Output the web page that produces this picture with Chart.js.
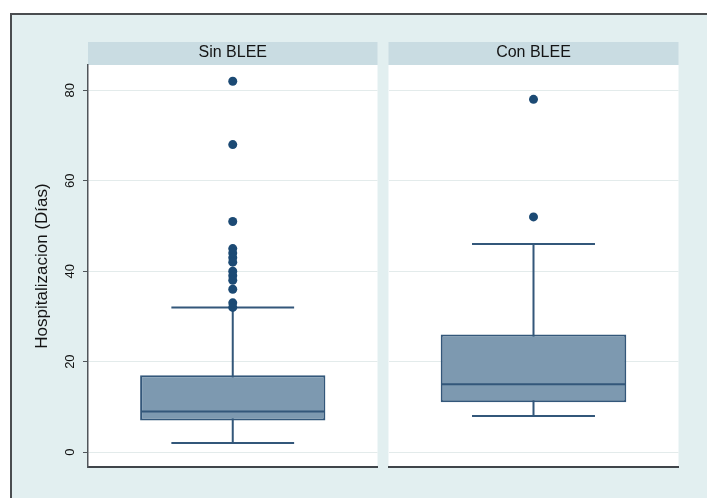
<!DOCTYPE html>
<html>
<head>
<meta charset="utf-8">
<script src="https://cdn.jsdelivr.net/npm/chart.js@4"></script>
<style>
  html, body { margin: 0; padding: 0; background: #ffffff; }
  #page { position: relative; width: 707px; height: 498px; overflow: hidden; }
  #frame {
    position: absolute; left: 10px; top: 13px; width: 720px; height: 520px;
    background: #e2eff0; border-top: 2px solid #4a4d50; border-left: 2px solid #4a4d50;
  }
  canvas { position: absolute; top: 0; }
  #panelSin { left: 0; }
  #panelCon { left: 384px; }
</style>
</head>
<body>
<div id="page">
  <div id="frame"></div>
  <canvas id="panelSin" width="382" height="498"></canvas>
  <canvas id="panelCon" width="299" height="498"></canvas>
</div>
<script>
// Hospital stay (days) by group: box plot summaries and outlying values
const categories = ['Sin BLEE', 'Con BLEE'];
const whiskerLow = [2, 8];
const q1 = [7, 11];
const median = [9, 15];
const q3 = [17, 26];
const whiskerHigh = [32, 46];
const outliersSin = [82, 68, 51, 45, 44, 43, 42, 40, 39, 38, 36, 33, 32];
const outliersCon = [78, 52];
const yTicks = [0, 20, 40, 60, 80];
const yTitle = 'Hospitalizacion (Días)';
const yMin = -3.3;
const yMax = 85.6;

const FONT = '"Liberation Sans", Arial, Helvetica, sans-serif';
const BOX_FILL = '#7d99b0';
const BOX_LINE = '#33577a';
const DOT = '#1c4a74';

// White plot region and the grey strip carrying the panel name
const panelDecor = {
  id: 'panelDecor',
  beforeDraw(chart, args, opts) {
    const { ctx, chartArea: a } = chart;
    ctx.save();
    ctx.fillStyle = '#ffffff';
    ctx.fillRect(a.left, a.top, a.right - a.left, a.bottom - a.top);
    ctx.fillStyle = '#c9dce2';
    ctx.fillRect(a.left, 42, a.right - a.left, a.top - 42);
    ctx.fillStyle = '#141414';
    ctx.font = '16px ' + FONT;
    ctx.textAlign = 'center';
    ctx.textBaseline = 'middle';
    ctx.fillText(opts.label, (a.left + a.right) / 2, 53);
    ctx.restore();
  }
};

// Whiskers with end caps behind the box, median line on top of it
const boxParts = {
  id: 'boxParts',
  beforeDatasetsDraw(chart, args, opts) {
    const { ctx, chartArea: a, scales: { x, y } } = chart;
    const cx = x.getPixelForValue(0);
    const half = (a.right - a.left) * 0.212;
    const lo = y.getPixelForValue(opts.low);
    const hi = y.getPixelForValue(opts.high);
    ctx.save();
    ctx.strokeStyle = BOX_LINE;
    ctx.lineWidth = 2;
    ctx.beginPath();
    ctx.moveTo(cx, lo); ctx.lineTo(cx, hi);
    ctx.moveTo(cx - half, lo); ctx.lineTo(cx + half, lo);
    ctx.moveTo(cx - half, hi); ctx.lineTo(cx + half, hi);
    ctx.stroke();
    ctx.restore();
  },
  afterDatasetsDraw(chart, args, opts) {
    const { ctx, scales: { y } } = chart;
    const bar = chart.getDatasetMeta(0).data[0];
    const my = y.getPixelForValue(opts.median);
    const w = bar.width / 2;
    ctx.save();
    ctx.strokeStyle = BOX_LINE;
    ctx.lineWidth = 2;
    ctx.beginPath();
    ctx.moveTo(bar.x - w + 1, my); ctx.lineTo(bar.x + w - 1, my);
    ctx.stroke();
    ctx.restore();
  }
};

function makePanel(canvasId, i, outliers, withAxis) {
  const cat = categories[i];
  return new Chart(document.getElementById(canvasId), {
    data: {
      labels: [cat],
      datasets: [
        {
          type: 'bar',
          data: [[q1[i], q3[i]]],
          backgroundColor: BOX_FILL,
          borderColor: BOX_LINE,
          borderWidth: 2,
          borderSkipped: false,
          barPercentage: 0.64,
          categoryPercentage: 1
        },
        {
          type: 'line',
          data: outliers.map(v => ({ x: cat, y: v })),
          showLine: false,
          pointRadius: 4.5,
          pointHoverRadius: 4.5,
          pointBackgroundColor: DOT,
          pointBorderWidth: 0
        }
      ]
    },
    options: {
      responsive: false,
      animation: false,
      events: [],
      layout: { padding: { top: 65, bottom: 31, left: 0, right: 0 } },
      plugins: {
        legend: { display: false },
        tooltip: { enabled: false },
        panelDecor: { label: cat },
        boxParts: { low: whiskerLow[i], high: whiskerHigh[i], median: median[i] }
      },
      scales: {
        x: {
          type: 'category',
          display: true,
          grid: { display: false, drawTicks: false },
          ticks: { display: false },
          border: { display: true, color: '#40454a', width: 2 },
          afterFit(s) { s.height = 0; }
        },
        y: {
          type: 'linear',
          min: yMin,
          max: yMax,
          afterBuildTicks(s) { s.ticks = yTicks.map(v => ({ value: v })); },
          grid: {
            color: '#e3ebeb',
            lineWidth: 1,
            drawTicks: withAxis,
            tickLength: 5,
            tickColor: '#50555a'
          },
          border: { display: withAxis, color: '#50555a', width: 1.5 },
          ticks: {
            display: withAxis,
            minRotation: 90,
            maxRotation: 90,
            crossAlign: 'center',
            padding: 5,
            color: '#111111',
            font: { family: FONT, size: 13 }
          },
          title: {
            display: withAxis,
            text: yTitle,
            color: '#141414',
            font: { family: FONT, size: 17 },
            padding: { top: 32, bottom: 0 }
          },
          afterFit(s) { s.width = withAxis ? 88 : 0; }
        }
      }
    },
    plugins: [panelDecor, boxParts]
  });
}

makePanel('panelSin', 0, outliersSin, true);
makePanel('panelCon', 1, outliersCon, false);
</script>
</body>
</html>
